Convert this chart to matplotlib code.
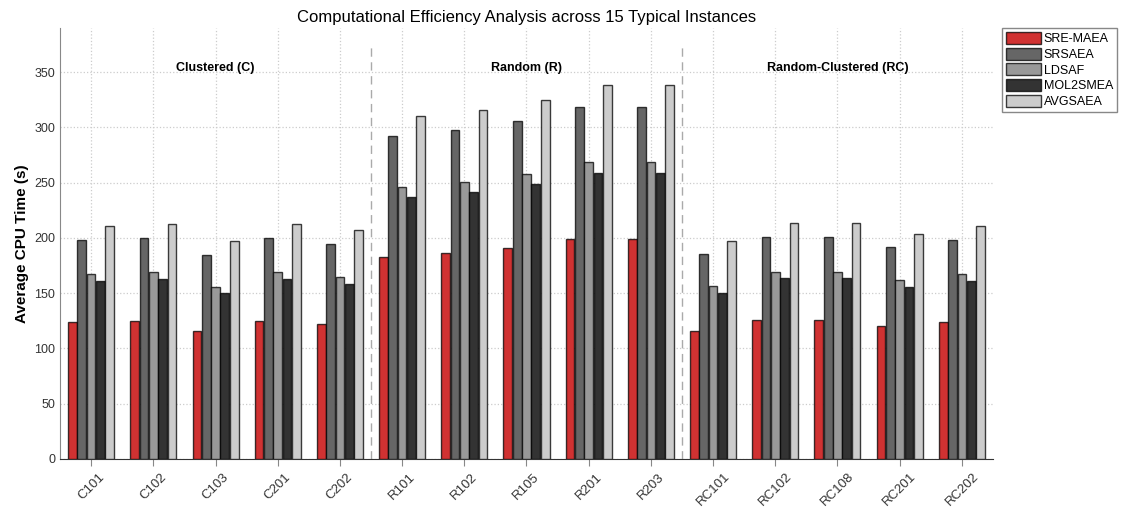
import matplotlib
matplotlib.use("Agg")
import matplotlib.pyplot as plt
import numpy as np

plt.rcParams['font.family'] = ['Liberation Sans', 'DejaVu Sans']

instances = ["C101", "C102", "C103", "C201", "C202",
             "R101", "R102", "R105", "R201", "R203",
             "RC101", "RC102", "RC108", "RC201", "RC202"]
algorithms = ["SRE-MAEA", "SRSAEA", "LDSAF", "MOL2SMEA", "AVGSAEA"]

sre_maea = [124, 125, 116, 125, 122, 183, 186, 191, 199, 199, 116, 125.5, 125.5, 120, 124]
srsaea = [198.5, 200, 185, 200, 194.5, 292, 297.5, 305.5, 318.5, 318.5, 185.5, 201, 201, 192, 198]
ldsaf = [167, 169, 156, 169, 164.5, 246, 251, 258, 268.5, 268.5, 156.5, 169.5, 169.5, 162, 167]
mol2smea = [161, 162.5, 150.5, 162.5, 158.5, 237, 242, 248.5, 258.5, 258.5, 150.5, 163.5, 163.5, 156, 161]
avgsaea = [210.5, 212.5, 197, 212.5, 207, 310.5, 316, 325, 338, 338, 197.5, 214, 214, 204, 210.5]

groups = ["Clustered (C)", "Random (R)", "Random-Clustered (RC)"]
group_sizes = [5, 5, 5]

colors = ["#d03232", "#666666", "#999999", "#333333", "#cccccc"]

series = [sre_maea, srsaea, ldsaf, mol2smea, avgsaea]

fig = plt.figure(figsize=(11.22, 5.16), dpi=100)
ax = fig.add_axes([0.0535, 0.1105, 0.8315, 0.8352])

x = np.arange(len(instances))
width = 0.14
step = 0.15
for i, (vals, name) in enumerate(zip(series, algorithms)):
    ax.bar(x + (i - 2) * step, vals, width, color=colors[i], label=name,
           edgecolor=(0, 0, 0, 0.75), linewidth=1.0, zorder=3)

ax.set_xlim(-0.5, len(instances) - 0.5)
ax.set_ylim(0, 390)
ax.set_yticks(np.arange(0, 351, 50))
ax.set_xticks(x)
ax.set_xticklabels(instances, rotation=45, fontsize=9.5, color="#333333")
ax.tick_params(axis='y', labelsize=9, colors="#333333", length=0)
ax.tick_params(axis='x', length=5, color="#888888")

ax.grid(True, linestyle=':', color='#cccccc', linewidth=0.9, zorder=0)
ax.set_axisbelow(True)
for side in ['top', 'right']:
    ax.spines[side].set_visible(False)
ax.spines['left'].set_color('#888888')
ax.spines['bottom'].set_color('#333333')

# group separators and labels
start = 0
for gi, (g, n) in enumerate(zip(groups, group_sizes)):
    center = start + (n - 1) / 2
    ax.text(center, 354, g, ha='center', va='center', fontsize=9, fontweight='bold')
    if gi < len(groups) - 1:
        ax.plot([start + n - 0.5] * 2, [0, 374], linestyle=(0, (6, 4)),
                color='#aaaaaa', linewidth=1.0, zorder=2)
    start += n

ax.set_ylabel("Average CPU Time (s)", fontsize=11, fontweight='bold')
ax.set_title("Computational Efficiency Analysis across 15 Typical Instances", fontsize=12, pad=4)

leg = ax.legend(loc='upper left', bbox_to_anchor=(1.01, 1.0), fontsize=9, fancybox=False,
                framealpha=1, edgecolor='#888888', borderaxespad=0, handlelength=2.8,
                handleheight=1.1, labelspacing=0.2, handletextpad=0.2, borderpad=0.3)

fig.savefig("out.png", dpi=100)
